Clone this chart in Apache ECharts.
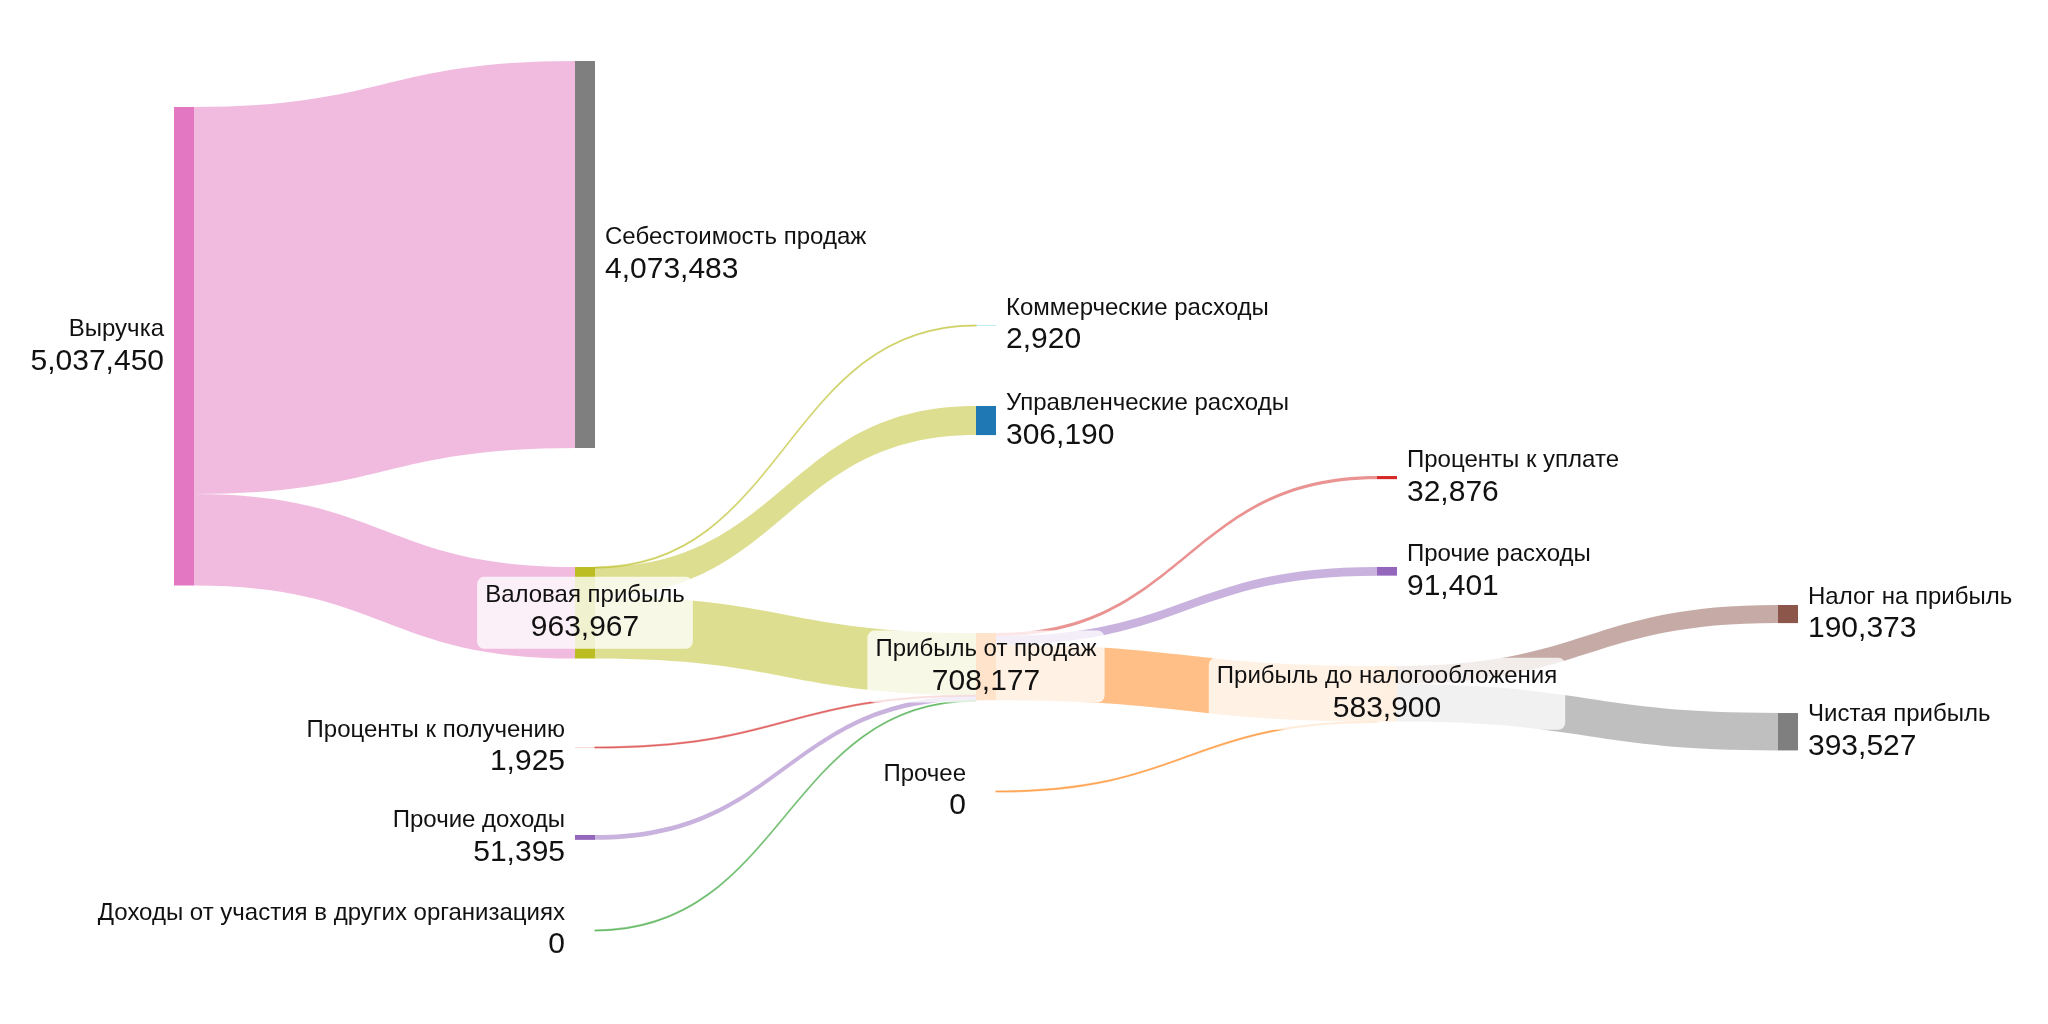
<!DOCTYPE html>
<html>
<head>
<meta charset="utf-8">
<script src="https://cdn.jsdelivr.net/npm/echarts@6/dist/echarts.min.js"></script>
<style>
  html, body { margin: 0; padding: 0; background: #ffffff; }
  #chart { width: 2048px; height: 1024px; }
</style>
</head>
<body>
<div id="chart"></div>
<script>
// ---- data ----
const nodeNames = [
  'Выручка',
  'Себестоимость продаж',
  'Валовая прибыль',
  'Проценты к получению',
  'Прочие доходы',
  'Доходы от участия в других организациях',
  'Коммерческие расходы',
  'Управленческие расходы',
  'Прибыль от продаж',
  'Прочее',
  'Проценты к уплате',
  'Прочие расходы',
  'Прибыль до налогообложения',
  'Налог на прибыль',
  'Чистая прибыль'
];
const nodeValues = [5037450, 4073483, 963967, 1925, 51395, 0, 2920, 306190, 708177, 0, 32876, 91401, 583900, 190373, 393527];
const nodeColumns = [0, 1, 1, 1, 1, 1, 2, 2, 2, 2, 3, 3, 3, 4, 4];

const linkSources = ['Выручка', 'Выручка', 'Валовая прибыль', 'Валовая прибыль', 'Валовая прибыль',
  'Проценты к получению', 'Прочие доходы', 'Доходы от участия в других организациях',
  'Прибыль от продаж', 'Прибыль от продаж', 'Прибыль от продаж', 'Прочее',
  'Прибыль до налогообложения', 'Прибыль до налогообложения'];
const linkTargets = ['Себестоимость продаж', 'Валовая прибыль', 'Коммерческие расходы', 'Управленческие расходы', 'Прибыль от продаж',
  'Прибыль от продаж', 'Прибыль от продаж', 'Прибыль от продаж',
  'Проценты к уплате', 'Прочие расходы', 'Прибыль до налогообложения', 'Прибыль до налогообложения',
  'Налог на прибыль', 'Чистая прибыль'];
const linkValues = [4073483, 963967, 2920, 306190, 654857, 1925, 51395, 0, 32876, 91401, 583900, 0, 190373, 393527];

// ---- layout (node placement, fraction of the sankey box height, like a node.y spec) ----
const nodePlacementY = [0.0528, 0, 0.581, 0.7876, 0.8886, 0.9977, 0.3031, 0.3961, 0.6567, 0.8381,
  0.4765, 0.5809, 0.6946, 0.6246, 0.7486];

// ---- styles ----
const nodeColors = ['#e377c2', '#7f7f7f', '#bcbd22', '#d62728', '#9467bd', '#2ca02c', '#17becf', '#1f77b4',
  '#ff7f0e', '#ff7f0e', '#d62728', '#9467bd', '#ffbb78', '#8c564b', '#7f7f7f'];
const labelSide = ['left', 'right', 'inside', 'left', 'left', 'left', 'right', 'right', 'inside', 'left',
  'right', 'right', 'inside', 'right', 'right'];
// link colour taken from this node
const linkColorFrom = ['Выручка', 'Выручка', 'Валовая прибыль', 'Валовая прибыль', 'Валовая прибыль',
  'Проценты к получению', 'Прочие доходы', 'Доходы от участия в других организациях',
  'Проценты к уплате', 'Прочие расходы', 'Прибыль от продаж', 'Прочее',
  'Налог на прибыль', 'Чистая прибыль'];

const fmt = v => v.toLocaleString('en-US');
const colorOf = name => nodeColors[nodeNames.indexOf(name)];

const nodes = nodeNames.map((n, i) => {
  const side = labelSide[i];
  const item = {
    name: n,
    value: nodeValues[i],
    depth: nodeColumns[i],
    localY: nodePlacementY[i],
    itemStyle: { color: nodeColors[i], borderWidth: 0 },
    label: { position: side }
  };
  if (side === 'inside') {
    item.label = {
      position: 'inside',
      align: 'center',
      backgroundColor: 'rgba(255,255,255,0.78)',
      borderRadius: 7,
      padding: [4, 8, 4, 8]
    };
  }
  return item;
});

const links = linkSources.map((s, i) => {
  const c = colorOf(linkColorFrom[i]);
  const ls = { color: c, opacity: 0.5 };
  if (linkValues[i] < 20000) {
    ls.borderColor = c;
    ls.borderWidth = 1.2;
  }
  return { source: s, target: linkTargets[i], value: linkValues[i], lineStyle: ls };
});

const chart = echarts.init(document.getElementById('chart'), null, { renderer: 'canvas' });
chart.setOption({
  backgroundColor: '#ffffff',
  animation: false,
  series: [{
    type: 'sankey',
    left: 174,
    right: 250,
    top: 61,
    bottom: 92,
    nodeWidth: 20,
    nodeGap: 96.85,
    nodeAlign: 'left',
    layoutIterations: 32,
    draggable: false,
    emphasis: { disabled: true },
    data: nodes,
    links: links,
    lineStyle: { curveness: 0.5 },
    label: {
      show: true,
      distance: 10,
      color: '#111',
      fontFamily: 'Liberation Sans, Arial, sans-serif',
      formatter: p => '{n|' + p.name + '}\n{v|' + fmt(nodeValues[p.dataIndex]) + '}',
      rich: {
        n: { fontSize: 24, lineHeight: 30, color: '#111', fontFamily: 'Liberation Sans, Arial, sans-serif' },
        v: { fontSize: 30, lineHeight: 34, color: '#111', fontFamily: 'Liberation Sans, Arial, sans-serif' }
      }
    }
  }]
});
</script>
</body>
</html>
